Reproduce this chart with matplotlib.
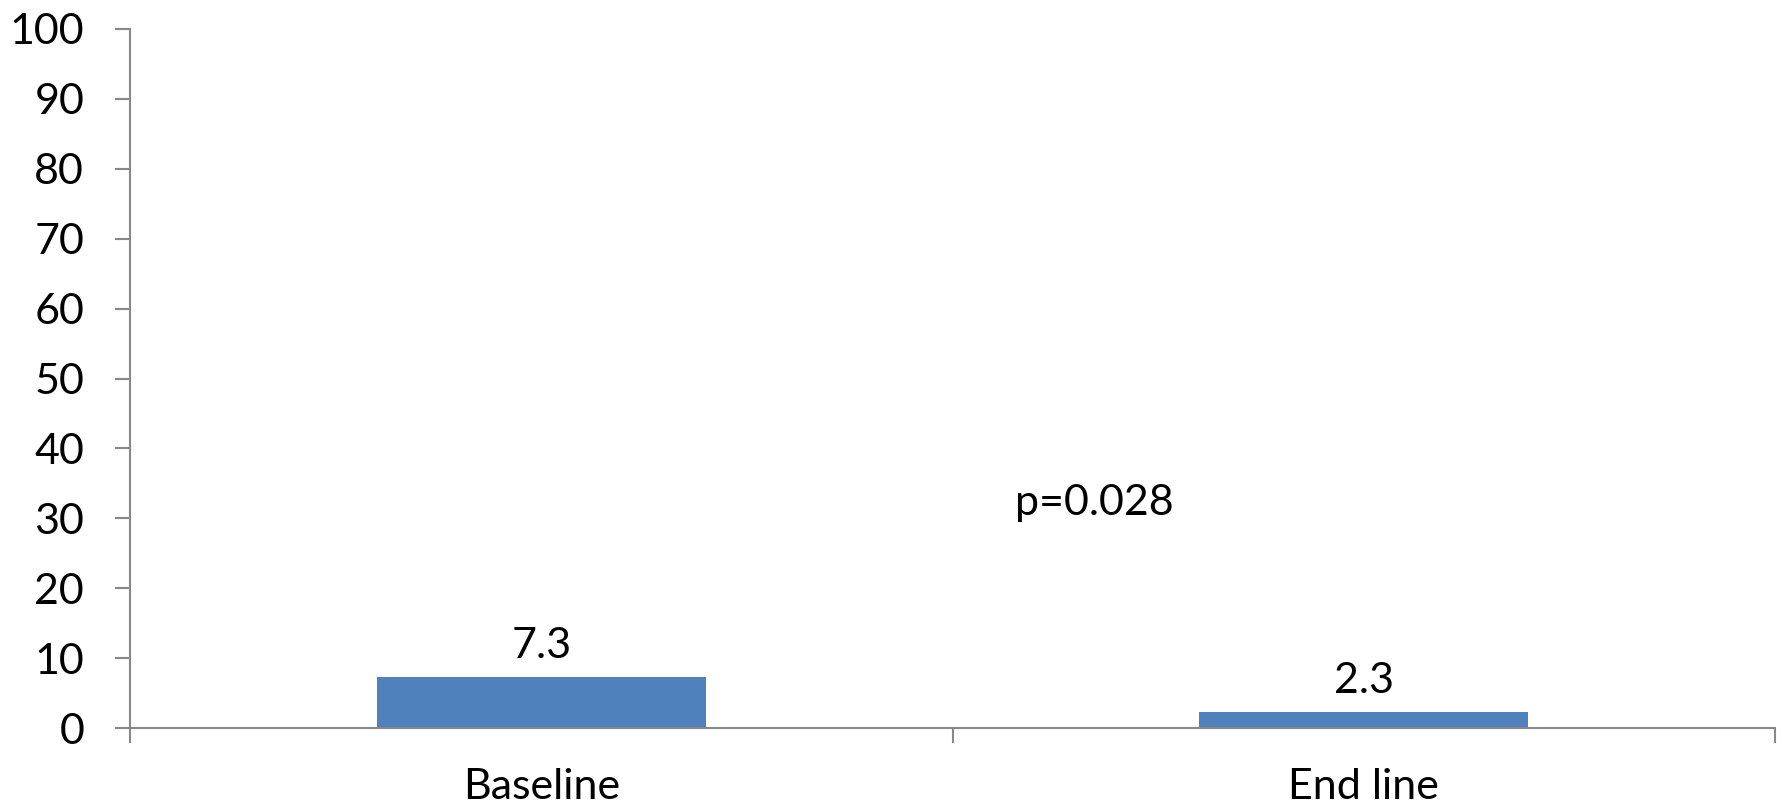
import matplotlib.pyplot as plt
import numpy as np

# 数据
categories = ['Baseline', 'End line']
values = [7.3, 2.3]
value_labels = ['7.3', '2.3']
y_ticks = [0, 10, 20, 30, 40, 50, 60, 70, 80, 90, 100]
p_text = 'p=0.028'

plt.rcParams['font.family'] = ['Lato', 'DejaVu Sans']
fs = 31

fig = plt.figure(figsize=(17.82, 8.11), dpi=100)
ax = fig.add_axes([130 / 1782, 83 / 811, 1645 / 1782, 699 / 811])

x = np.arange(len(categories)) + 0.5
ax.bar(x, values, width=0.4, color='#4F81BD', zorder=2)

# 数值标签
for xi, v, s in zip(x, values, value_labels):
    ax.annotate(s, (xi, v), xytext=(0, 12), textcoords='offset pixels',
                ha='center', va='bottom', fontsize=fs, color='black')

ax.text(1.173, 32.2, p_text, ha='center', va='center', fontsize=fs)

ax.set_xlim(0, len(categories))
ax.set_ylim(0, 100)
ax.set_yticks(y_ticks)
ax.set_xticks(np.arange(len(categories) + 1))
ax.set_xticklabels([])
ax.set_xticks(x, minor=True)
ax.set_xticklabels(categories, minor=True)

for side in ['top', 'right']:
    ax.spines[side].set_visible(False)
for side in ['left', 'bottom']:
    ax.spines[side].set_color('#888888')
    ax.spines[side].set_linewidth(1.5)

ax.tick_params(axis='y', length=11, width=1.5, color='#888888',
               labelsize=fs, pad=22)
ax.tick_params(axis='x', which='major', length=11, width=1.5, color='#888888')
ax.tick_params(axis='x', which='minor', length=0, labelsize=fs, pad=29)

fig.savefig('out.png', dpi=100)
